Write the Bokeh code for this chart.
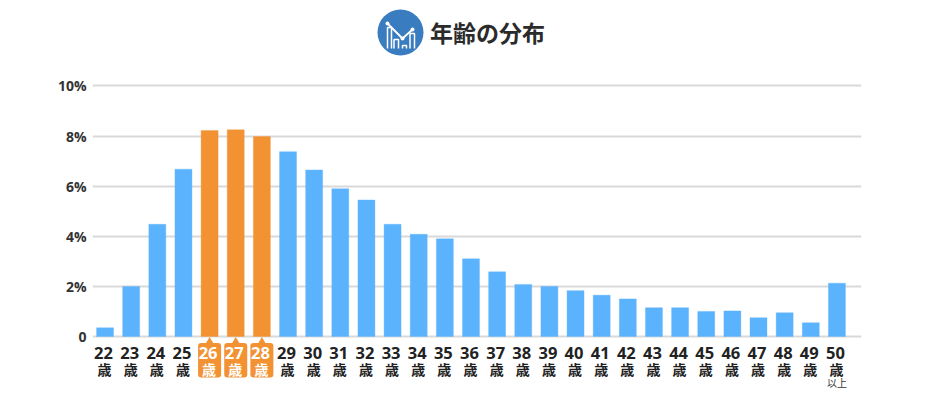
from bokeh.plotting import figure
from bokeh.models import Range1d, LinearAxis, FixedTicker, ColumnDataSource, Grid
from bokeh.core.properties import value
from bokeh.embed import file_html
from bokeh.resources import INLINE

ages = list(range(22, 51))
shares = [0.35, 2.0, 4.48, 6.68, 8.22, 8.25, 7.98, 7.38, 6.65, 5.9, 5.45, 4.48, 4.08, 3.9, 3.1,
          2.58, 2.08, 2.0, 1.83, 1.65, 1.5, 1.15, 1.15, 1.0, 1.02, 0.75, 0.95, 0.55, 2.13]
highlight = [26, 27, 28]
y_ticks = [0, 2, 4, 6, 8, 10]
y_labels = ["0", "2%", "4%", "6%", "8%", "10%"]
title = "年齢の分布"
unit = "歳"
last_note = "以上"

BLUE, ORANGE, INK = "#5cb3fd", "#f29233", "#2b2b2b"
JP = value("Noto Sans CJK JP")
LATIN = value("Open Sans")

p = figure(width=940, height=408, output_backend="svg", toolbar_location=None,
           x_range=Range1d(21.52, 50.94), y_range=Range1d(-2.874, 13.413),
           min_border_left=92, min_border_right=79, min_border_top=0, min_border_bottom=0,
           x_axis_location=None, y_axis_location=None)
p.outline_line_color = None
p.background_fill_color = None
# page-pixel y and x scales for decoration
p.extra_y_ranges = {"py": Range1d(408, 0)}
p.extra_x_ranges = {"px": Range1d(92, 861)}

ax = LinearAxis(ticker=FixedTicker(ticks=y_ticks))
ax.major_label_overrides = {t: l for t, l in zip(y_ticks, y_labels)}
ax.axis_line_color = None
ax.major_tick_line_color = None
ax.minor_tick_line_color = None
ax.major_label_standoff = 0
ax.major_label_text_font = "Open Sans"
ax.major_label_text_font_size = "14px"
ax.major_label_text_font_style = "bold"
ax.major_label_text_color = "#333333"
p.add_layout(ax, "left")

p.xgrid.visible = False
p.ygrid.visible = False
g = Grid(dimension=1, ticker=FixedTicker(ticks=y_ticks), grid_line_color="#d9d9d9", grid_line_width=2)
p.add_layout(g)

colors = [ORANGE if a in highlight else BLUE for a in ages]
src = ColumnDataSource(dict(x=ages, top=shares, color=colors,
                            num=[str(a) for a in ages],
                            u=[unit] * len(ages),
                            tc=["#ffffff" if a in highlight else "#222222" for a in ages]))
p.vbar(x="x", top="top", bottom=0, width=0.65, fill_color="color", line_color="color",
       line_alpha=0.35, source=src)

# highlighted tick callouts
p.vbar(x=highlight, bottom=[342.5] * 3, top=[377] * 3, width=0.88, fill_color=ORANGE, line_color=None,
       border_radius=3, y_range_name="py")
p.scatter(x=highlight, y=[341] * 3, marker="triangle", size=8, fill_color=ORANGE, line_color=None,
          y_range_name="py")

p.text(x="x", y=352.5, text="num", source=src, y_range_name="py", text_align="center", x_offset=-1.5,
       text_baseline="middle", text_font=LATIN, text_font_style="bold", text_font_size="16.5px",
       text_color="tc")
p.text(x="x", y=368.5, text="u", source=src, y_range_name="py", text_align="center", x_offset=-0.5,
       text_baseline="middle", text_font=JP, text_font_style="bold", text_font_size="14px",
       text_color="tc")
p.text(x=[ages[-1]], y=[381.5], text=[last_note], y_range_name="py", text_align="center",
       text_baseline="middle", text_font=JP, text_font_size="10px", text_color="#333333")

# title + icon, in page pixels
p.text(x=[429.5], y=[31], text=[title], x_range_name="px", y_range_name="py", text_align="left",
       text_baseline="middle", text_font=JP, text_font_style="bold", text_font_size="23px",
       text_color=INK)
p.circle(x=[400], y=[32], radius=23, radius_units="screen", fill_color="#3a7cc0", line_color=None,
         x_range_name="px", y_range_name="py")
icon_x = [[387, 387, 391, 391], [393.5, 393.5, 398, 398], [402, 402, 406, 406], [409.5, 409.5, 414, 414]]
icon_y = [[48, 27, 27, 48], [48, 39, 39, 48], [48, 45, 45, 48], [48, 33, 33, 48]]
p.multi_line(xs=icon_x, ys=icon_y, line_color="white", line_width=1.5, x_range_name="px", y_range_name="py")
p.line(x=[387, 402, 412], y=[23, 38, 29], line_color="white", line_width=1.8, x_range_name="px", y_range_name="py")
p.scatter(x=[387, 402, 412], y=[23, 38, 29], size=4, fill_color="white", line_color=None,
          x_range_name="px", y_range_name="py")

open("out.html", "w").write(file_html(p, INLINE))
